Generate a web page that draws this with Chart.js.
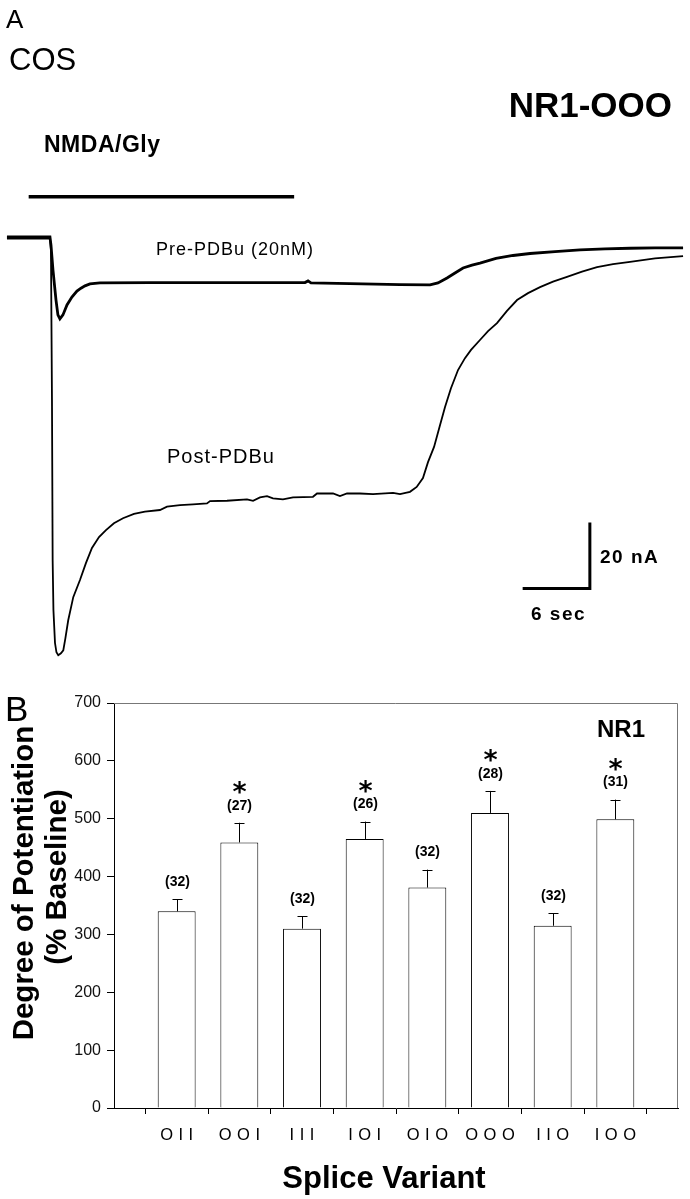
<!DOCTYPE html>
<html>
<head>
<meta charset="utf-8">
<script src="https://cdn.jsdelivr.net/npm/chart.js@4.4.1/dist/chart.umd.min.js"></script>
<style>
  html, body { margin: 0; padding: 0; background: #fff; }
  canvas { display: block; }
</style>
</head>
<body>
<canvas id="traceChart" width="690" height="680"></canvas>
<canvas id="barChart" width="690" height="519"></canvas>
<script>
// ---- Panel A: whole-cell currents (time in s, current in nA) ----
const preTime = [-3.84, 0, 0.09, 0.27, 0.54, 0.71, 0.89, 1.16, 1.52, 1.96, 2.41, 2.77, 3.13, 3.57, 4.46, 8.93, 13.39, 17.86, 22.77, 23.04,
    23.30, 26.79, 31.25, 33.93, 34.64, 35.45, 36.16, 36.88, 37.68, 38.39, 39.82, 41.34, 42.86, 45.09, 47.32, 49.55, 51.79, 54.02, 56.52];
const preCurrent = [0, 0, -2.4, -10.0, -19.1, -23.6, -24.8, -23.6, -20.6, -18.2, -16.4, -15.5, -14.8, -14.2, -13.9, -13.8, -13.8, -13.8, -13.8, -13.3,
    -13.9, -14.1, -14.4, -14.5, -13.9, -12.4, -10.9, -9.4, -8.5, -7.9, -6.5, -5.6, -5.0, -4.4, -3.9, -3.6, -3.4, -3.3, -3.3];

const postTime = [-3.84, 0, 0.09, 0.18, 0.24, 0.31, 0.45, 0.58, 0.74, 0.98, 1.19, 1.38, 1.63, 2.08, 2.68, 3.21, 3.75, 4.38, 5.00, 5.71,
    6.52, 7.50, 8.48, 9.82, 10.45, 11.61, 12.77, 14.02, 14.29, 15.80, 17.59, 18.13, 18.75, 19.38, 19.91, 20.80, 21.70, 23.48, 23.84, 25.27,
    25.89, 26.52, 27.68, 28.84, 30.63, 31.25, 32.14, 32.74, 33.30, 33.75, 34.29, 34.82, 35.27, 35.80, 36.43, 37.05, 37.59, 38.39, 39.11, 39.91,
    40.80, 41.70, 42.68, 43.75, 44.91, 46.16, 47.50, 48.84, 50.27, 51.79, 54.02, 56.52];
const postCurrent = [-0.5, -0.5, -3.9, -49.4, -97.9, -113.0, -123.0, -125.8, -126.7, -126.1, -125.2, -121.5, -116.1, -109.1, -103.9, -98.8, -94.2, -90.9, -88.8, -86.7,
    -85.2, -83.9, -83.2, -82.7, -81.7, -81.2, -81.0, -80.7, -80.0, -79.9, -79.5, -79.9, -78.9, -78.5, -79.2, -79.5, -78.9, -78.7, -77.7, -77.7,
    -78.5, -77.7, -77.7, -77.9, -77.5, -77.9, -77.2, -75.7, -73.0, -68.2, -63.6, -57.0, -51.5, -45.8, -40.3, -36.7, -34.2, -31.2, -28.5, -26.1,
    -22.4, -19.1, -17.0, -15.2, -13.5, -12.1, -10.5, -9.1, -8.2, -7.5, -6.5, -5.8];

const nmdaTime = [-1.9, 21.8];
const nmdaLevel = [12.2, 12.2];
const scaleBarTime = [42.2, 48.2, 48.2];      // 6 sec
const scaleBarCurrent = [-106.5, -106.5, -86.5]; // 20 nA

// ---- Panel B: potentiation by splice variant ----
const variants = ['O\u2004I\u2004I', 'O\u2004O\u2004I', 'I\u2004I\u2004I', 'I\u2004O\u2004I', 'O\u2004I\u2004O', 'O\u2004O\u2004O', 'I\u2004I\u2004O', 'I\u2004O\u2004O'];
const potentiation = [340, 459, 310, 465, 381, 510, 315, 499];
const sem = [21, 34, 21, 30, 31, 38, 22, 34];
const nCells = [32, 27, 32, 26, 32, 28, 32, 31];
const significant = [false, true, false, true, false, true, false, true];

const FONT = "'Liberation Sans', Arial, sans-serif";

function zip(xs, ys) {
    return xs.map((x, i) => ({ x: x, y: ys[i] }));
}

function lineSet(xs, ys, width) {
    return {
        data: zip(xs, ys),
        borderColor: '#000',
        borderWidth: width,
        pointRadius: 0,
        tension: 0,
        fill: false,
        clip: false
    };
}

function text(ctx, str, x, y, font, align, spacing) {
    ctx.save();
    ctx.font = font;
    ctx.fillStyle = '#000';
    ctx.textAlign = align || 'left';
    ctx.textBaseline = 'alphabetic';
    if (spacing) ctx.letterSpacing = spacing;
    ctx.fillText(str, x, y);
    ctx.restore();
}

// labels for panel A
const traceLabels = {
    id: 'traceLabels',
    afterDraw(chart) {
        const ctx = chart.ctx;
        text(ctx, 'A', 6, 28, '26px ' + FONT);
        text(ctx, 'COS', 9, 70, '31px ' + FONT);
        text(ctx, 'NR1-OOO', 672, 117, 'bold 35px ' + FONT, 'right');
        text(ctx, 'NMDA/Gly', 44, 152, 'bold 23px ' + FONT, 'left', '0.5px');
        text(ctx, 'Pre-PDBu (20nM)', 156, 255, '18px ' + FONT, 'left', '1px');
        text(ctx, 'Post-PDBu', 167, 463, '20px ' + FONT, 'left', '1px');
        text(ctx, '20 nA', 600, 563, 'bold 19px ' + FONT, 'left', '1.5px');
        text(ctx, '6 sec', 531, 620, 'bold 19px ' + FONT, 'left', '1.5px');
    }
};

new Chart(document.getElementById('traceChart'), {
    type: 'line',
    data: {
        datasets: [
            lineSet(postTime, postCurrent, 1.8),
            lineSet(preTime, preCurrent, 2.8),
            lineSet(nmdaTime, nmdaLevel, 3.5),
            lineSet(scaleBarTime, scaleBarCurrent, 3)
        ]
    },
    options: {
        responsive: false,
        animation: false,
        layout: { padding: 0 },
        plugins: { legend: { display: false }, tooltip: { enabled: false } },
        scales: {
            x: { type: 'linear', min: -4.46, max: 57.14, display: false },
            y: { type: 'linear', min: -134.2, max: 71.8, display: false }
        }
    },
    plugins: [traceLabels]
});

// error bars, n and asterisks, frame and titles for panel B
const barExtras = {
    id: 'barExtras',
    afterDatasetsDraw(chart) {
        const ctx = chart.ctx;
        const xs = chart.scales.x, ys = chart.scales.y;
        const area = chart.chartArea;

        ctx.save();
        ctx.strokeStyle = '#777';
        ctx.lineWidth = 1;
        ctx.beginPath();
        ctx.moveTo(area.left, area.top + 0.5);
        ctx.lineTo(area.right - 0.5, area.top + 0.5);
        ctx.lineTo(area.right - 0.5, area.bottom);
        ctx.stroke();

        ctx.strokeStyle = '#000';
        potentiation.forEach((v, i) => {
            const x = Math.round(xs.getPixelForValue(i + 1)) + 0.5;
            const yMean = ys.getPixelForValue(v);
            const yTop = ys.getPixelForValue(v + sem[i]);
            ctx.beginPath();
            ctx.moveTo(x, yMean);
            ctx.lineTo(x, yTop);
            ctx.moveTo(x - 5, Math.round(yTop) + 0.5);
            ctx.lineTo(x + 5, Math.round(yTop) + 0.5);
            ctx.stroke();

            ctx.fillStyle = '#000';
            ctx.textAlign = 'center';
            ctx.textBaseline = 'middle';
            ctx.font = 'bold 14px ' + FONT;
            ctx.fillText('(' + nCells[i] + ')', x, yTop - 17);
            if (significant[i]) {
                ctx.font = 'bold 27px DejaVu Sans';
                ctx.textBaseline = 'alphabetic';
                ctx.fillText('*', x, yTop - 22);
            }
        });
        ctx.restore();

        text(ctx, 'B', 5, 41, '35px ' + FONT);
        text(ctx, 'NR1', 621, 57, 'bold 24px ' + FONT, 'center');
        text(ctx, 'Splice Variant', 384, 508, 'bold 31px ' + FONT, 'center');

        // y title, two rotated lines
        ctx.save();
        ctx.font = 'bold 29.5px ' + FONT;
        ctx.fillStyle = '#000';
        ctx.textAlign = 'center';
        ctx.textBaseline = 'middle';
        ctx.translate(25, 203);
        ctx.rotate(-Math.PI / 2);
        ctx.fillText('Degree of Potentiation', 0, 0);
        ctx.fillText('(% Baseline)', 6, 33);
        ctx.restore();
    }
};

new Chart(document.getElementById('barChart'), {
    type: 'bar',
    data: {
        labels: [''].concat(variants, ['']),
        datasets: [{
            data: [null].concat(potentiation, [null]),
            backgroundColor: '#fff',
            borderColor: '#000',
            borderWidth: 1,
            categoryPercentage: 1,
            barPercentage: 0.605
        }]
    },
    options: {
        responsive: false,
        animation: false,
        layout: { padding: { top: 23, right: 6, left: 0, bottom: 0 } },
        plugins: { legend: { display: false }, tooltip: { enabled: false } },
        scales: {
            x: {
                type: 'category',
                offset: false,
                grid: { drawOnChartArea: false, drawTicks: true, tickLength: 6, color: '#000' },
                border: { display: true, color: '#000', width: 1 },
                ticks: { color: '#000', font: { family: FONT, size: 16.5 }, padding: 12, maxRotation: 0, autoSkip: false },
                afterFit: s => { s.height = 91; }
            },
            y: {
                min: 0,
                max: 700,
                grid: { drawOnChartArea: false, drawTicks: true, tickLength: 7, color: '#000' },
                border: { display: true, color: '#000', width: 1 },
                ticks: { stepSize: 100, color: '#111', font: { family: FONT, size: 16 }, padding: 6 },
                afterFit: s => { s.width = 114; }
            }
        }
    },
    plugins: [barExtras]
});
</script>
</body>
</html>
